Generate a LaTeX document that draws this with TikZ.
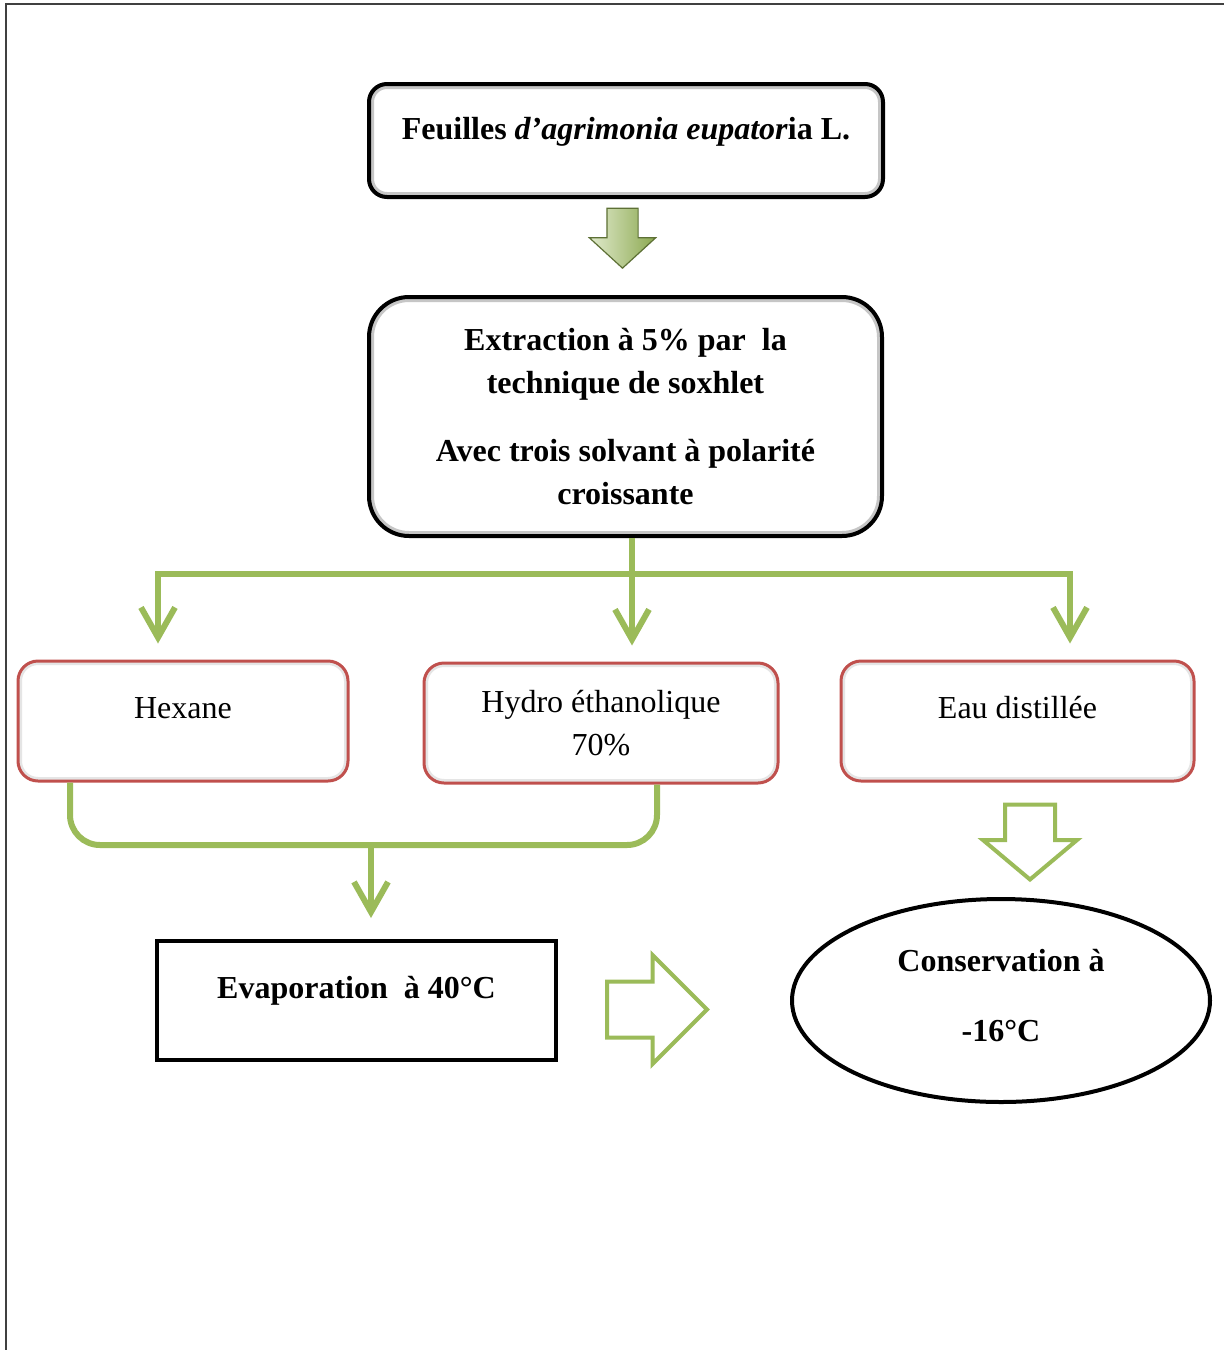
\documentclass[tikz,border=0pt]{standalone}
\usepackage{fontspec}
\setmainfont{Liberation Serif}
\usepackage{tikz}
\usetikzlibrary{arrows.meta,positioning,shapes.geometric,shapes.arrows}
\definecolor{leaf}{RGB}{155,187,89}
\definecolor{brick}{RGB}{192,80,77}
\tikzset{
  >=Stealth,
  bigtxt/.style={font=\fontsize{16}{21.5}\selectfont\bfseries, align=center},
  smalltxt/.style={font=\fontsize{16}{21.5}\selectfont, align=center},
  mainbox/.style={bigtxt, rectangle, rounded corners=#1, draw=black, line width=2pt,
    fill=white, inner sep=0pt,
    path picture={\draw[gray!45, line width=5pt, rounded corners=#1]
      (path picture bounding box.south west) rectangle (path picture bounding box.north east);}},
  mainbox/.default=9pt,
  solvbox/.style={smalltxt, rectangle, rounded corners=10pt, draw=brick, line width=1.5pt,
    fill=white, inner sep=0pt, minimum height=60pt,
    path picture={\draw[gray!20, line width=4pt, rounded corners=10pt]
      (path picture bounding box.south west) rectangle (path picture bounding box.north east);}},
  oneline/.style={text height=11pt, text depth=#1},
  evapbox/.style={bigtxt, rectangle, draw=black, line width=2pt, inner sep=0pt},
  coldbox/.style={bigtxt, ellipse, draw=black, line width=2pt, inner sep=0pt},
  flow/.style={draw=leaf, line width=3pt},
  flowtip/.style={-{Straight Barb[length=15pt,width=17pt]}, shorten >=#1},
  openarrow/.style={single arrow, draw=leaf, line width=2pt, fill=white, inner xsep=0pt},
  boldarrow/.style={single arrow, draw=leaf!60!black, line width=0.6pt, inner xsep=0pt,
    left color=leaf!30!white, right color=leaf!90!black}
}
\begin{document}
\begin{tikzpicture}[x=0.5pt, y=-0.5pt]
  \useasboundingbox (0,0) rectangle (1224,1350);
  \draw[black!75, line width=1pt] (1224,4) -- (6,4) -- (6,1350);

  % plant material and extraction
  \node[mainbox=9pt, minimum width=257pt, minimum height=56.5pt, oneline=12.5pt]
    (feuilles) at (626,140.5) {Feuilles \textit{d'agrimonia eupator}ia L.};
  \node[boldarrow, rotate=-90, minimum height=30pt, minimum width=32.5pt, inner ysep=7.5pt,
    single arrow head extend=8.75pt, single arrow tip angle=95] (down) at (622.5,231) {};
  \node[mainbox=20pt, minimum width=256.5pt, minimum height=119.5pt]
    (extr) at (625.5,416.5) {Extraction à 5\% par\ \ la\\technique de soxhlet\\[12.5pt]Avec trois solvant à polarité\\croissante};

  % solvents
  \node[solvbox, minimum width=165pt, oneline=14pt] (hexane) at (183,721) {Hexane};
  \node[solvbox, minimum width=177pt] (hydro) at (601,723) {Hydro éthanolique\\70\%};
  \node[solvbox, minimum width=176.5pt, oneline=14pt] (eau) at (1017.5,721) {Eau distillée};

  % evaporation and storage
  \node[evapbox, minimum width=199.5pt, minimum height=59.5pt, oneline=13pt]
    (evap) at (356.5,1000.5) {Evaporation\ \ à 40°C};
  \node[coldbox, minimum width=209pt, minimum height=101.5pt, text depth=5pt]
    (cons) at (1001,1000.5) {Conservation à\\[13.5pt]-16°C};
  \node[openarrow, minimum height=50pt, minimum width=52.5pt, inner ysep=13pt,
    single arrow head extend=13.25pt, single arrow tip angle=90] (dryarrow) at (643,1009.5) {};
  \node[openarrow, rotate=-90, minimum height=37.5pt, minimum width=45pt, inner ysep=11.5pt,
    single arrow head extend=11pt, single arrow tip angle=100] (storearrow) at (1030,831.5) {};

  % solvent branches
  \coordinate (split) at (632,574);
  \draw[flow, flowtip=8pt] (extr.south -| split) -- (split |- hydro.north);
  \draw[flow, flowtip=8pt] (split) -| ([xshift=-12.5pt]hexane.north);
  \draw[flow, flowtip=8pt] (split) -| ([xshift=26.25pt]eau.north);

  % hexane + hydro to evaporation
  \coordinate (merge) at (371,845);
  \draw[flow, rounded corners=15pt] ([xshift=-56.5pt]hexane.south) |- (merge) -| ([xshift=28pt]hydro.south);
  \draw[flow, flowtip=10.5pt] (merge) -- (merge |- evap.north);
\end{tikzpicture}
\end{document}
